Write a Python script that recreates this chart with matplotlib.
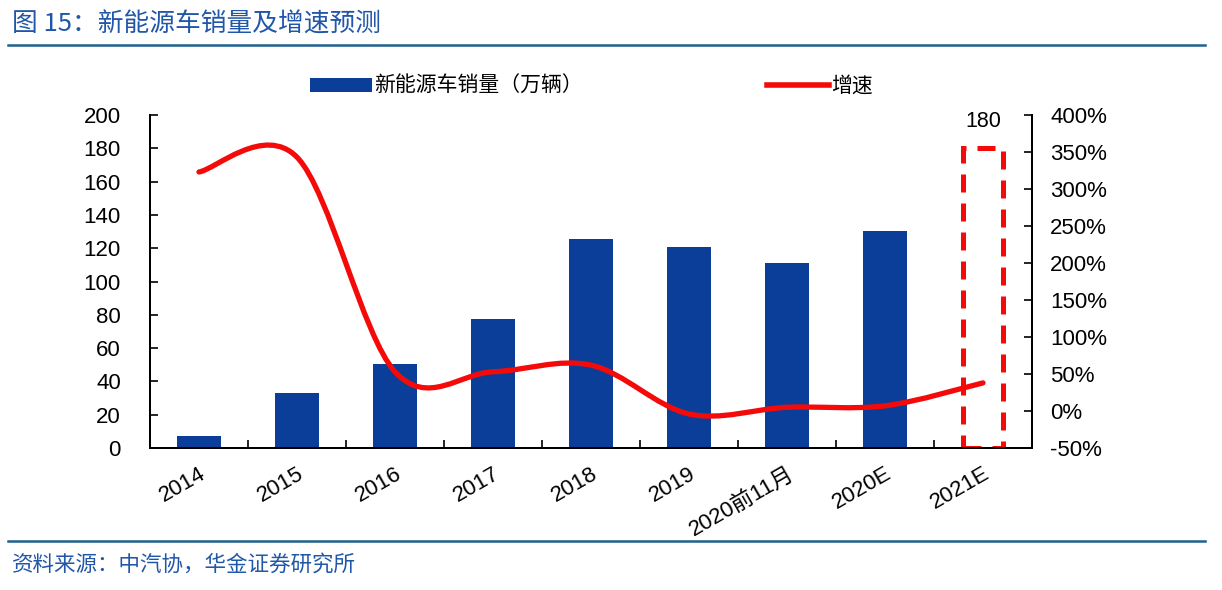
import numpy as np
import matplotlib
matplotlib.use("Agg")
import matplotlib.pyplot as plt
from matplotlib.path import Path
from matplotlib.patches import PathPatch, Patch
from matplotlib.lines import Line2D

plt.rcParams['font.family'] = ['Liberation Sans', 'Noto Sans CJK SC']

# data
categories = ['2014', '2015', '2016', '2017', '2018', '2019', '2020前11月', '2020E', '2021E']
sales = [7.5, 33.1, 50.7, 77.7, 125.6, 120.6, 111.0, 130.5]   # 万辆, actual bars
forecast_2021 = 180                                          # dashed box
growth = [323, 343, 53, 53, 62, -4, 5, 7, 38]                # %

bar_color = '#0b3e98'
red = '#f50a0a'
blue_txt = '#2157a8'
rule_color = '#1f6190'

fig = plt.figure(figsize=(12.22, 5.90), dpi=100)
ax = fig.add_axes([150 / 1222, 1 - 448 / 590, 882 / 1222, 333 / 590])
ax2 = ax.twinx()

x = np.arange(len(categories))

# bars
ax.bar(x[:len(sales)], sales, width=0.45, color=bar_color, zorder=2)
ax.bar(x[-1], forecast_2021, width=0.41, fill=False, edgecolor=red,
       linewidth=3.6, linestyle=(0, (3.6, 2.2)), zorder=3)
ax.annotate(str(forecast_2021), (x[-1], forecast_2021), xytext=(0, 12),
            textcoords='offset points', ha='center', va='bottom', fontsize=15.5)

ax.set_xlim(-0.5, len(categories) - 0.5)
ax.set_ylim(0, 200)
ax.set_yticks(range(0, 201, 20))
ax.set_xticks(x)
ax.set_xticklabels(categories, rotation=30, ha='right', va='top',
                   rotation_mode='anchor', fontsize=16)
ax.set_xticks(np.arange(0.5, len(categories) - 1, 1), minor=True)
ax.tick_params(axis='x', which='major', length=0, pad=11)
ax.tick_params(axis='x', which='minor', direction='in', length=6, width=1.2)
ax.tick_params(axis='y', direction='in', length=6, width=1.2, labelsize=16, pad=21)

# smoothed growth line (bezier through the points, like an office "smooth line")
pts = np.column_stack([x, growth]).astype(float)
verts = [pts[0]]
codes = [Path.MOVETO]
n = len(pts)
for i in range(n - 1):
    p_prev = pts[max(i - 1, 0)]
    p0, p1 = pts[i], pts[i + 1]
    p_next = pts[min(i + 2, n - 1)]
    c1 = p0 + (p1 - p_prev) / 6
    c2 = p1 - (p_next - p0) / 6
    verts += [c1, c2, p1]
    codes += [Path.CURVE4] * 3
ax2.add_patch(PathPatch(Path(verts, codes), fill=False, edgecolor=red,
                        linewidth=3.8, capstyle='round', joinstyle='round', zorder=4))

ax2.set_ylim(-50, 400)
ax2.set_yticks(range(-50, 401, 50))
ax2.set_yticklabels([f'{v}%' for v in range(-50, 401, 50)])
ax2.tick_params(axis='y', direction='in', length=6, width=1.2, labelsize=16, pad=13)

for a in (ax, ax2):
    a.spines['top'].set_visible(False)
    for s in ('left', 'right', 'bottom'):
        a.spines[s].set_linewidth(1.4)

# legend
handles = [Patch(facecolor=bar_color, edgecolor='none'),
           Line2D([], [], color=red, linewidth=4)]
fig.legend(handles, ['新能源车销量（万辆）', '增速'], loc='center',
           bbox_to_anchor=(0.484, 0.854), ncol=2, frameon=False,
           fontsize=15, handlelength=3.0, handleheight=0.7,
           handletextpad=0.1, columnspacing=8.8)

# title, rules and source
fig.text(12 / 1222, 1 - 25 / 590, '图 15：新能源车销量及增速预测', fontsize=18.5,
         color=blue_txt, ha='left', va='center', family=['Noto Sans CJK SC'])
fig.add_artist(Line2D([8 / 1222, 1205 / 1222], [1 - 45 / 590] * 2,
                      color=rule_color, linewidth=1.8))
fig.add_artist(Line2D([8 / 1222, 1205 / 1222], [1 - 541 / 590] * 2,
                      color=rule_color, linewidth=1.8))
fig.text(12 / 1222, 1 - 565 / 590, '资料来源：中汽协，华金证券研究所', fontsize=15.5,
         color=blue_txt, ha='left', va='center', family=['Noto Sans CJK SC'])

fig.savefig('out.png', dpi=100, facecolor='white')
